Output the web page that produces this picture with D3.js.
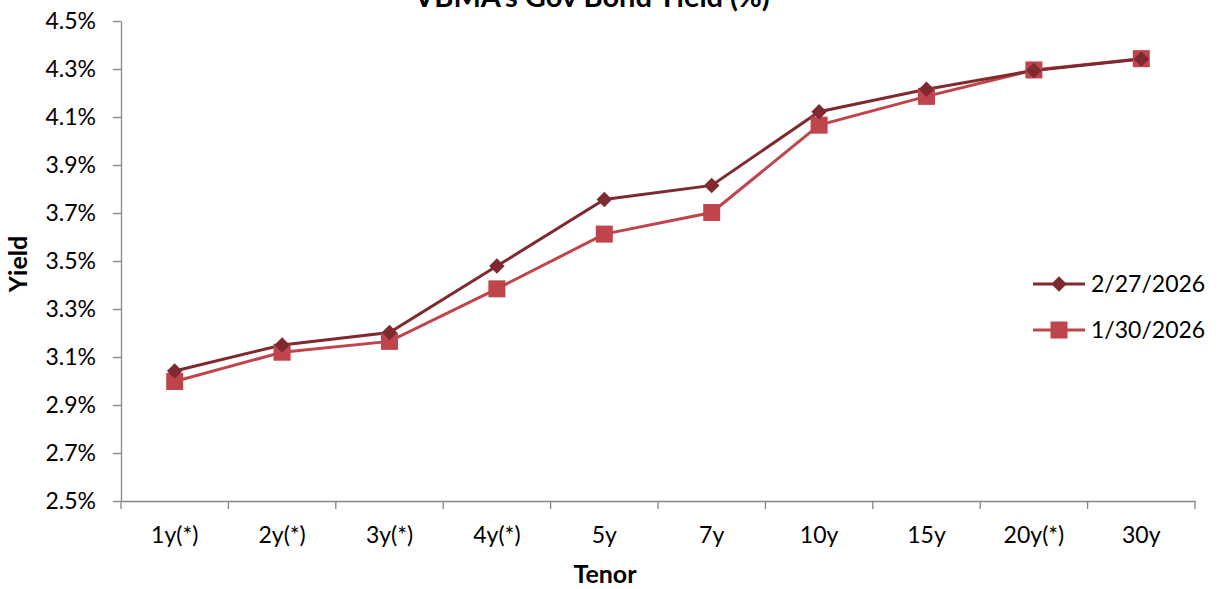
<!DOCTYPE html>
<html><head><meta charset="utf-8">
<script src="https://cdn.jsdelivr.net/npm/d3@7"></script>
<style>body{margin:0;background:#fff;}svg{display:block;font-family:Lato,"Open Sans",sans-serif;}</style>
</head><body><svg id="c" width="1219" height="589"></svg>
<script>
const title = "VBMA's Gov Bond Yield (%)";
const tenors = ["1y(*)","2y(*)","3y(*)","4y(*)","5y","7y","10y","15y","20y(*)","30y"];
const series1Name = "2/27/2026";
const series1 = [3.042, 3.150, 3.202, 3.479, 3.756, 3.815, 4.122, 4.216, 4.294, 4.342];
const series2Name = "1/30/2026";
const series2 = [2.998, 3.120, 3.165, 3.384, 3.612, 3.702, 4.066, 4.186, 4.296, 4.343];
const yTicks = [2.5, 2.7, 2.9, 3.1, 3.3, 3.5, 3.7, 3.9, 4.1, 4.3, 4.5];

const svg = d3.select("#c");
const pLeft = 121, pRight = 1195, pTop = 21, pBottom = 501;
const x = d3.scaleBand().domain(tenors).range([pLeft, pRight]);
const y = d3.scaleLinear().domain([2.5, 4.5]).range([pBottom, pTop]);
const axisCol = "#868686";
const fs = 23;

const yAxis = svg.append("g").attr("transform", `translate(${pLeft},0)`)
  .call(d3.axisLeft(y).tickValues(yTicks).tickFormat(d => d.toFixed(1) + "%").tickSize(8).tickSizeOuter(0).tickPadding(17));
const xAxis = svg.append("g").attr("transform", `translate(0,${pBottom})`)
  .call(d3.axisBottom(x).tickSize(0).tickPadding(26));
xAxis.selectAll(".bnd").data(d3.range(tenors.length + 1)).enter().append("line")
  .attr("x1", i => pLeft + i * x.step()).attr("x2", i => pLeft + i * x.step())
  .attr("y1", 0).attr("y2", 8).attr("stroke", axisCol).attr("stroke-width", 1.3);
[yAxis, xAxis].forEach(g => {
  g.select(".domain").attr("stroke", axisCol).attr("stroke-width", 1.3);
  g.selectAll(".tick line").attr("stroke", axisCol).attr("stroke-width", 1.3);
  g.selectAll("text").attr("font-size", fs).attr("fill", "#000").attr("font-family", "Lato, sans-serif");
});

const cx = d => x(d) + x.bandwidth() / 2;
const line = d3.line().x((d, i) => cx(tenors[i])).y(d => y(d));
const c1 = "#7f2a2f", c2 = "#c0444b";

svg.append("path").datum(series2).attr("d", line).attr("fill", "none").attr("stroke", c2).attr("stroke-width", 3);
svg.append("path").datum(series1).attr("d", line).attr("fill", "none").attr("stroke", c1).attr("stroke-width", 3);
svg.selectAll(".sq").data(series2).enter().append("rect")
  .attr("x", (d, i) => cx(tenors[i]) - 8.5).attr("y", d => y(d) - 8.5).attr("width", 17).attr("height", 17).attr("fill", c2);
svg.selectAll(".dm").data(series1).enter().append("path")
  .attr("d", d3.symbol().type(d3.symbolSquare).size(120))
  .attr("transform", (d, i) => `translate(${cx(tenors[i])},${y(d)}) rotate(45)`).attr("fill", c1);

const leg = [{n: series1Name, c: c1, m: "d", yy: 284}, {n: series2Name, c: c2, m: "s", yy: 330}];
leg.forEach(l => {
  svg.append("line").attr("x1", 1033).attr("x2", 1085).attr("y1", l.yy).attr("y2", l.yy).attr("stroke", l.c).attr("stroke-width", 3);
  if (l.m === "d") svg.append("path").attr("d", d3.symbol().type(d3.symbolSquare).size(120)).attr("transform", `translate(1059,${l.yy}) rotate(45)`).attr("fill", l.c);
  else svg.append("rect").attr("x", 1050.5).attr("y", l.yy - 8.5).attr("width", 17).attr("height", 17).attr("fill", l.c);
  svg.append("text").attr("x", 1091).attr("y", l.yy).attr("dy", "0.35em").attr("font-size", fs).text(l.n);
});

svg.append("text").attr("x", 592).attr("y", 7).attr("text-anchor", "middle").attr("font-size", 29).attr("font-weight", "bold").text(title);
svg.append("text").attr("transform", "translate(27,264) rotate(-90)").attr("text-anchor", "middle").attr("font-size", 25).attr("font-weight", "bold").text("Yield");
svg.append("text").attr("x", 605).attr("y", 583).attr("text-anchor", "middle").attr("font-size", 25).attr("font-weight", "bold").text("Tenor");
</script></body></html>
